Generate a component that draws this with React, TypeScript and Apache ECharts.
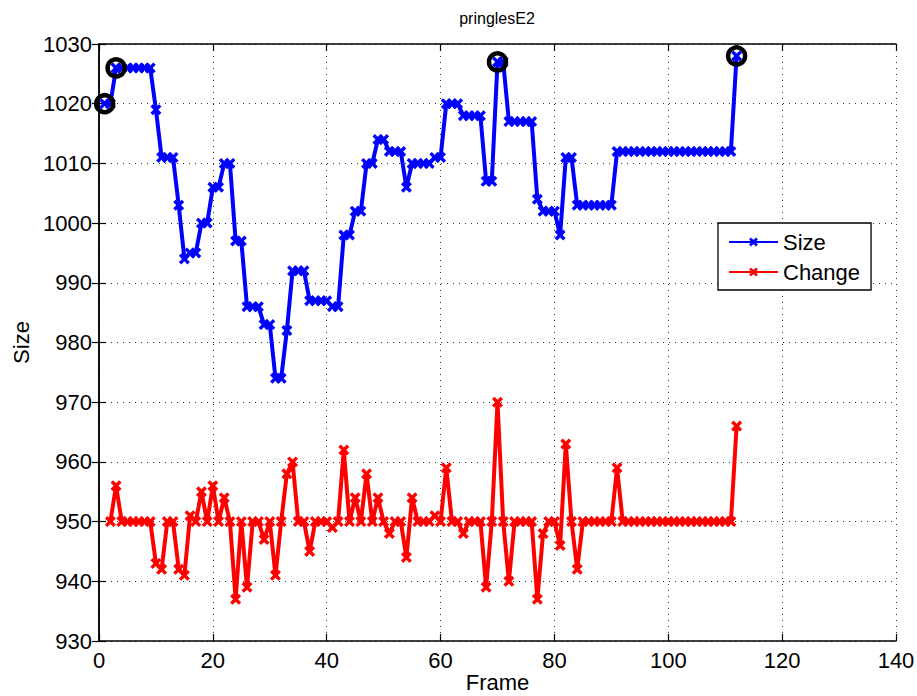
import React, { useEffect, useRef } from "react";
import * as echarts from "echarts";

const chartTitle = "pringlesE2";
const xAxisName = "Frame";
const yAxisName = "Size";
const seriesNames = ["Size", "Change"];

// Size per frame, starting at frame 1
const sizeStartFrame = 1;
const sizeValues = [
  1020, 1020, 1026, 1026, 1026, 1026, 1026, 1026, 1026, 1019,
  1011, 1011, 1011, 1003, 994, 995, 995, 1000, 1000, 1006,
  1006, 1010, 1010, 997, 997, 986, 986, 986, 983, 983,
  974, 974, 982, 992, 992, 992, 987, 987, 987, 987,
  986, 986, 998, 998, 1002, 1002, 1010, 1010, 1014, 1014,
  1012, 1012, 1012, 1006, 1010, 1010, 1010, 1010, 1011, 1011,
  1020, 1020, 1020, 1018, 1018, 1018, 1018, 1007, 1007, 1027,
  1027, 1017, 1017, 1017, 1017, 1017, 1004, 1002, 1002, 1002,
  998, 1011, 1011, 1003, 1003, 1003, 1003, 1003, 1003, 1003,
  1012, 1012, 1012, 1012, 1012, 1012, 1012, 1012, 1012, 1012,
  1012, 1012, 1012, 1012, 1012, 1012, 1012, 1012, 1012, 1012,
  1012, 1028,
];

// Change per frame (offset around 950), starting at frame 2
const changeStartFrame = 2;
const changeValues = [
  950, 956, 950, 950, 950, 950, 950, 950, 943,
  942, 950, 950, 942, 941, 951, 950, 955, 950, 956,
  950, 954, 950, 937, 950, 939, 950, 950, 947, 950,
  941, 950, 958, 960, 950, 950, 945, 950, 950, 950,
  949, 950, 962, 950, 954, 950, 958, 950, 954, 950,
  948, 950, 950, 944, 954, 950, 950, 950, 951, 950,
  959, 950, 950, 948, 950, 950, 950, 939, 950, 970,
  950, 940, 950, 950, 950, 950, 937, 948, 950, 950,
  946, 963, 950, 942, 950, 950, 950, 950, 950, 950,
  959, 950, 950, 950, 950, 950, 950, 950, 950, 950,
  950, 950, 950, 950, 950, 950, 950, 950, 950, 950,
  950, 966,
];

// Circled key frames
const keyFrames = [1, 3, 70, 112];
const keySizes = [1020, 1026, 1027, 1028];

const xMin = 0;
const xMax = 140;
const xStep = 20;
const yMin = 930;
const yMax = 1030;
const yStep = 10;

const FONT = "'Liberation Sans', Arial, Helvetica, sans-serif";
const XMARK =
  "path://M0,2.2L2.2,0L5,2.8L7.8,0L10,2.2L7.2,5L10,7.8L7.8,10L5,7.2L2.2,10L0,7.8L2.8,5Z";

export default function App() {
  const ref = useRef<HTMLDivElement>(null);

  useEffect(() => {
    if (!ref.current) return;
    const chart = echarts.init(ref.current, undefined, { renderer: "svg" });

    const sizeData = sizeValues.map((v, i) => [sizeStartFrame + i, v]);
    const changeData = changeValues.map((v, i) => [changeStartFrame + i, v]);
    const keyData = keyFrames.map((f, i) => [f, keySizes[i]]);

    const gridLine = {
      show: true,
      lineStyle: { color: "#333", width: 1, type: [1, 5] as any },
    };
    const tick = {
      show: true,
      inside: true,
      length: 7,
      lineStyle: { color: "#000", width: 1.2 },
    };
    const line = { show: true, lineStyle: { color: "#000", width: 1.5 } };
    const plain = (v: number) => String(v);

    chart.setOption({
      animation: false,
      backgroundColor: "#fff",
      textStyle: { fontFamily: FONT },
      grid: {
        left: 99,
        top: 44,
        width: 797,
        height: 597,
        containLabel: false,
        outerBoundsMode: "none",
      },
      graphic: [
        {
          type: "text",
          x: 497,
          y: 18,
          style: {
            text: chartTitle,
            fontSize: 16,
            fontFamily: FONT,
            fill: "#000",
            textAlign: "center",
            textVerticalAlign: "middle",
          },
        },
      ],
      legend: {
        data: seriesNames,
        orient: "vertical",
        left: 718,
        top: 223,
        padding: [8, 11, 7, 10],
        itemGap: 8,
        itemWidth: 49,
        itemHeight: 11,
        borderColor: "#000",
        borderWidth: 1.3,
        backgroundColor: "#fff",
        textStyle: { fontSize: 22, color: "#000", fontFamily: FONT, lineHeight: 22 },
      },
      xAxis: [
        {
          type: "value",
          min: xMin,
          max: xMax,
          interval: xStep,
          position: "bottom",
          axisLine: line,
          axisTick: tick,
          splitLine: gridLine,
          axisLabel: { fontSize: 22, color: "#000", margin: 8, fontFamily: FONT, formatter: plain },
          name: xAxisName,
          nameLocation: "middle",
          nameGap: 30,
          nameMoveOverlap: false,
          nameTextStyle: { fontSize: 22, color: "#000", fontFamily: FONT, lineHeight: 22 },
        },
        {
          type: "value",
          min: xMin,
          max: xMax,
          interval: xStep,
          position: "top",
          axisLine: line,
          axisTick: tick,
          splitLine: { show: false },
          axisLabel: { show: false },
        },
      ],
      yAxis: [
        {
          type: "value",
          min: yMin,
          max: yMax,
          interval: yStep,
          position: "left",
          axisLine: line,
          axisTick: tick,
          splitLine: gridLine,
          axisLabel: { fontSize: 22, color: "#000", margin: 7, fontFamily: FONT, formatter: plain },
          name: yAxisName,
          nameLocation: "middle",
          nameRotate: 90,
          nameGap: 67,
          nameMoveOverlap: false,
          nameTextStyle: { fontSize: 22, color: "#000", fontFamily: FONT },
        },
        {
          type: "value",
          min: yMin,
          max: yMax,
          interval: yStep,
          position: "right",
          axisLine: line,
          axisTick: tick,
          splitLine: { show: false },
          axisLabel: { show: false },
        },
      ],
      series: [
        {
          name: seriesNames[0],
          type: "line",
          xAxisIndex: 0,
          yAxisIndex: 0,
          data: sizeData,
          symbol: XMARK,
          symbolSize: 11,
          lineStyle: { color: "#0000ff", width: 4 },
          itemStyle: { color: "#0000ff" },
          z: 3,
        },
        {
          name: seriesNames[1],
          type: "line",
          xAxisIndex: 0,
          yAxisIndex: 0,
          data: changeData,
          symbol: XMARK,
          symbolSize: 11,
          lineStyle: { color: "#ff0000", width: 4 },
          itemStyle: { color: "#ff0000" },
          z: 3,
        },
        {
          name: "key",
          type: "scatter",
          xAxisIndex: 0,
          yAxisIndex: 0,
          data: keyData,
          symbol: "circle",
          symbolSize: 17,
          itemStyle: {
            color: "rgba(0,0,0,0)",
            borderColor: "#000",
            borderWidth: 4.5,
            opacity: 1,
          },
          z: 5,
        },
      ],
    });

    return () => chart.dispose();
  }, []);

  return (
    <div
      ref={ref}
      style={{ position: "fixed", left: 0, top: 0, width: 917, height: 696 }}
    />
  );
}
